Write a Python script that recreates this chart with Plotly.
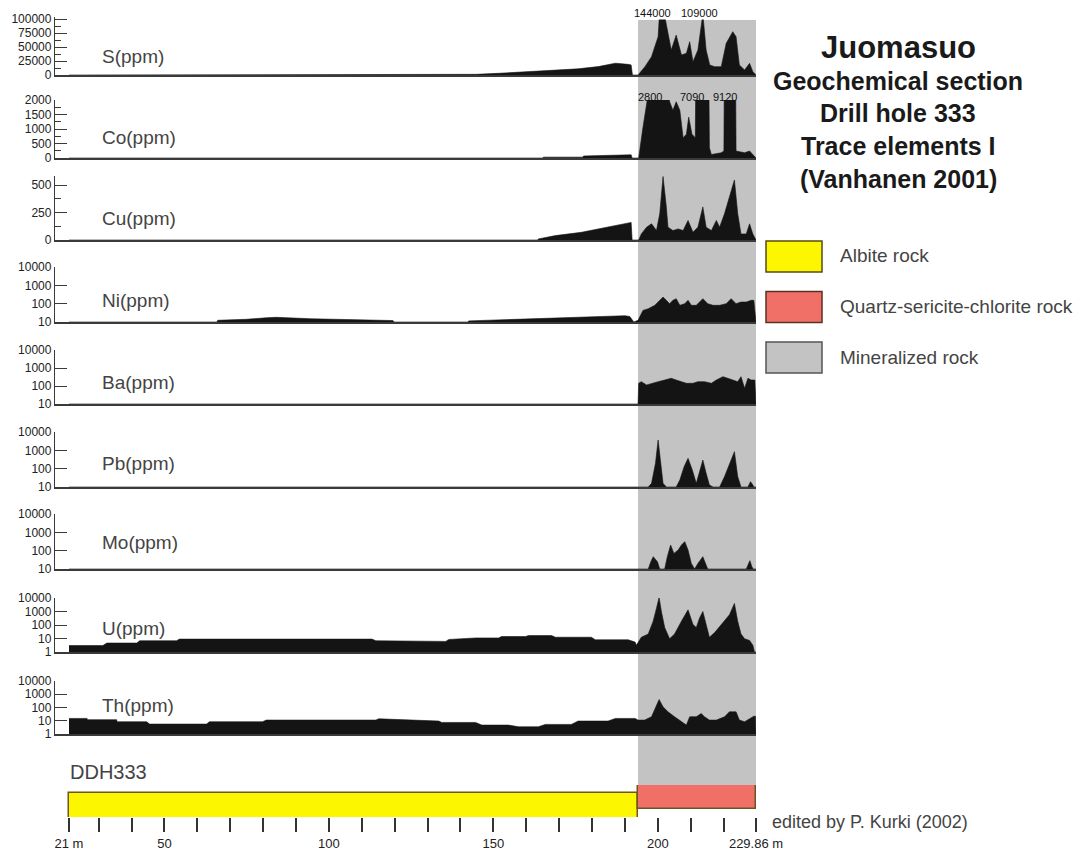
import plotly.graph_objects as go

W, H = 1091, 852

# ---------------- data ----------------
depth_start = 21.0
depth_end = 229.86
mineral_from = 194.0
mineral_to = 229.86

litho_names = ["Albite rock", "Quartz-sericite-chlorite rock"]
litho_from = [21.0, 194.0]
litho_to = [194.0, 229.86]
litho_colors = ["#fcf600", "#f07068"]

depth_ticks = [21, 30, 40, 50, 60, 70, 80, 90, 100, 110, 120, 130, 140, 150, 160, 170,
               180, 190, 200, 210, 220, 229.86]
depth_labels = ["21 m", "", "", "50", "", "", "", "", "100", "", "", "", "", "150", "", "",
                "", "", "200", "", "", "229.86 m"]

s_depth = [21, 144.5, 144.9, 151.6, 166.8, 175.8, 181.9, 187.1, 191.0, 191.9, 192.3, 194.0,
           196.1, 198.1, 200.1, 200.9, 202.6, 204.1, 205.6, 207.2, 208.7, 209.7, 210.7, 212.2,
           213.7, 214.7, 215.8, 217.3, 219.3, 220.8, 222.8, 223.8, 224.8, 226.4, 227.9, 228.9, 229.86]
s_ppm = [0, 0, 1200, 3000, 7700, 11000, 15000, 21000, 19000, 18000, 0, 0,
         14900, 32700, 68500, 144000, 90000, 44600, 71400, 35700, 38700, 59500, 23800, 44600,
         109000, 44600, 17900, 14900, 14900, 56500, 77400, 68500, 17900, 8900, 20800, 6000, 0]
s_peak_depth = [198.3, 212.8]
s_peak_text = ["144000", "109000"]

co_depth = [21, 165.0, 165.2, 177.3, 177.4, 185.0, 191.0, 191.9, 192.2, 194.2, 195.5, 197.1,
            197.9, 202.6, 203.6, 204.6, 205.6, 206.7, 207.7, 208.7, 209.4, 210.4, 211.4, 211.9,
            215.2, 215.7, 216.3, 219.3, 220.1, 220.5, 223.3, 223.8, 226.4, 227.9, 228.9, 229.86]
co_ppm = [0, 0, 30, 30, 70, 90, 120, 110, 0, 0, 1060, 1880,
          2800, 2800, 1940, 1650, 1940, 1650, 700, 820, 1410, 820, 700, 7090,
          7090, 350, 120, 180, 240, 9120, 9120, 240, 180, 240, 120, 0]
co_peak_depth = [197.6, 210.4, 220.4]
co_peak_text = ["2800", "7090", "9120"]

cu_depth = [21, 163.5, 163.7, 168.9, 176.8, 184.0, 191.0, 191.9, 192.2, 194.2, 195.0, 196.6,
            198.1, 199.6, 200.6, 201.6, 202.6, 203.1, 204.6, 206.2, 207.7, 209.2, 210.7, 212.2,
            213.7, 214.7, 216.3, 217.8, 218.8, 220.3, 221.8, 223.3, 224.3, 225.3, 226.9, 227.9,
            228.9, 229.86]
cu_ppm = [0, 0, 10, 40, 70, 115, 160, 160, 0, 0, 55, 117,
          147, 86, 240, 577, 301, 117, 86, 101, 86, 178, 71, 117,
          301, 117, 86, 178, 117, 240, 393, 546, 240, 55, 55, 147,
          55, 0]

ni_depth = [21, 66.0, 66.2, 74.9, 81.0, 84.0, 94.6, 107.0, 113.0, 119.5, 119.8, 142.3, 142.5,
            151.6, 160.0, 170.0, 180.0, 184.9, 190.0, 191.5, 192.7, 194.0, 195.5, 197.1, 199.1,
            200.6, 201.6, 202.6, 203.6, 204.6, 205.6, 206.7, 208.2, 209.2, 210.2, 211.7, 213.7,
            215.2, 216.8, 218.8, 220.8, 222.3, 223.8, 225.3, 226.9, 228.4, 229.2, 229.86]
ni_ppm = [10, 10, 12.4, 14, 17, 18, 15, 14, 12.5, 12, 10, 10, 11.5,
          13, 15, 17, 19, 21, 22, 20, 10, 12.3, 43, 53, 81,
          152, 231, 152, 100, 152, 187, 81, 100, 152, 81, 81, 187,
          100, 81, 81, 100, 187, 100, 123, 123, 152, 152, 10]

ba_depth = [21, 194.0, 194.2, 195.0, 196.6, 198.1, 200.1, 202.1, 204.1, 205.6, 207.2, 208.7,
            210.7, 212.2, 214.2, 216.3, 217.8, 219.8, 221.3, 222.8, 224.3, 225.3, 226.4, 227.4,
            228.4, 229.5, 229.86]
ba_ppm = [10, 10, 141, 174, 114, 141, 174, 215, 267, 215, 174, 141,
          141, 174, 174, 141, 215, 330, 267, 215, 174, 330, 74, 267,
          215, 215, 10]

pb_depth = [21, 197.1, 198.1, 199.3, 200.1, 200.9, 201.6, 202.6, 205.6, 206.7, 208.0, 209.2,
            210.5, 211.7, 212.5, 213.7, 214.7, 215.7, 216.8, 218.8, 220.3, 221.8, 223.3, 224.3,
            225.3, 227.4, 228.2, 228.9, 229.2, 229.86]
pb_ppm = [10, 10, 15.8, 195, 3650, 195, 15.8, 10, 10, 24, 128, 365,
          85, 15.8, 56, 297, 56, 12.8, 10, 10, 37, 195, 850, 37,
          10, 10, 19.5, 12.8, 10, 10]

mo_depth = [21, 197.1, 197.9, 198.6, 199.9, 200.6, 202.1, 202.9, 203.9, 204.9, 206.2, 207.2,
            208.2, 209.2, 210.2, 211.2, 212.2, 213.7, 214.7, 215.2, 226.9, 227.4, 228.0, 228.6,
            229.0, 229.86]
mo_ppm = [10, 10, 25, 47, 25, 10, 10, 47, 204, 71, 109, 204,
          310, 109, 20, 10, 20, 47, 16.5, 10, 10, 16.5, 28.5, 13.4,
          10, 10]

u_depth = [21, 31.3, 32.5, 41.6, 42.5, 53.7, 54.6, 113.1, 114.3, 135.5, 136.5, 144.6, 151.6,
           152.5, 159.8, 160.7, 167.7, 168.9, 179.8, 181.0, 191.0, 193.1, 193.5, 195.0, 197.1,
           198.6, 199.6, 200.4, 201.1, 202.1, 203.6, 205.1, 207.2, 209.2, 210.7, 211.7, 212.7,
           213.7, 214.7, 215.7, 217.3, 219.3, 221.8, 223.3, 224.3, 225.3, 226.4, 227.9, 228.9,
           229.4, 229.86]
u_ppm = [3.0, 3.0, 4.6, 4.6, 6.8, 6.8, 9, 9, 6.8, 6.1, 8.5, 11, 11,
         14, 14, 16.4, 16.4, 12.4, 12.4, 8, 8, 5.5, 3.2, 12.4, 21.5,
         193, 1730, 11000, 1000, 64, 9.5, 21.5, 193, 1320, 111, 64, 333,
         1000, 111, 12.4, 28, 111, 580, 3950, 193, 21.5, 9.5, 7.2, 3.2,
         1, 1]

th_depth = [21, 26.5, 26.6, 35.5, 35.6, 44.6, 45.5, 62.8, 63.7, 79.8, 81.0, 114.3, 115.2,
            121.3, 133.4, 134.3, 144.6, 146.5, 154.6, 157.7, 163.7, 165.8, 173.7, 175.8, 184.9,
            187.1, 193.1, 194.0, 196.0, 198.1, 199.6, 200.4, 201.6, 203.1, 205.1, 207.7, 208.7,
            209.7, 211.7, 213.2, 214.2, 215.7, 217.8, 220.3, 221.8, 223.8, 224.8, 226.4, 227.9,
            229.2, 229.7, 229.86]
th_ppm = [15, 15, 12, 12, 8.4, 8.4, 5.6, 5.6, 8.4, 8.4, 11.3, 11.3, 14,
          12, 9.5, 7.5, 7.5, 4.7, 4.7, 3.5, 3.5, 5.3, 5.3, 9.5, 9.5,
          15, 15, 11.2, 11.2, 20, 150, 400, 112, 47, 20, 6.3, 4.7,
          20, 20, 35, 20, 11.2, 11.2, 20, 47, 47, 11.2, 8.4, 15,
          22, 22, 1]

# ---------------- layout helpers (window pixel -> paper) ----------------
# the page body has an 8 px margin, so the figure origin sits at (8, 8) in the window
OFF = 8

def px_y(p):
    return 1 - (p - OFF) / H

def px_x(p):
    return (p - OFF) / W

X_LEFT, X_RIGHT = 55, 756
x_scale = (X_RIGHT - X_LEFT - 14) / (depth_end - depth_start)
x_range = [depth_start - 14 / x_scale, depth_end]

FONT = "Liberation Sans, Arial, sans-serif"
INK = "#141414"
AXIS = "#3a3a3a"

panels = [
    # label, depth, values, type, range, top px, bottom px, tickvals, ticktext, minor, label y px
    ("S(ppm)", s_depth, s_ppm, "linear", [0, 103600], 17, 75,
     [0, 25000, 50000, 75000, 100000], ["0", "25000", "50000", "75000", "100000"],
     [12500, 37500, 62500, 87500], 56),
    ("Co(ppm)", co_depth, co_ppm, "linear", [0, 2000], 100, 158,
     [0, 500, 1000, 1500, 2000], ["0", "500", "1000", "1500", "2000"],
     [250, 750, 1250, 1750], 138),
    ("Cu(ppm)", cu_depth, cu_ppm, "linear", [0, 582], 176, 240,
     [0, 250, 500], ["0", "250", "500"], [125, 375], 218),
    ("Ni(ppm)", ni_depth, ni_ppm, "log", [1, 4], 267, 322,
     [10, 100, 1000, 10000], ["10", "100", "1000", "10000"], None, 300),
    ("Ba(ppm)", ba_depth, ba_ppm, "log", [1, 4], 350, 404,
     [10, 100, 1000, 10000], ["10", "100", "1000", "10000"], None, 382),
    ("Pb(ppm)", pb_depth, pb_ppm, "log", [1, 4], 432, 487,
     [10, 100, 1000, 10000], ["10", "100", "1000", "10000"], None, 463),
    ("Mo(ppm)", mo_depth, mo_ppm, "log", [1, 4], 514, 569,
     [10, 100, 1000, 10000], ["10", "100", "1000", "10000"], None, 542),
    ("U(ppm)", u_depth, u_ppm, "log", [0, 4], 598, 652,
     [1, 10, 100, 1000, 10000], ["1", "10", "100", "1000", "10000"], None, 628),
    ("Th(ppm)", th_depth, th_ppm, "log", [0, 4], 681, 734,
     [1, 10, 100, 1000, 10000], ["1", "10", "100", "1000", "10000"], None, 705),
]

fig = go.Figure()
layout = dict(
    template="none",
    width=W, height=H, autosize=False,
    margin=dict(l=0, r=0, t=0, b=0, pad=0, autoexpand=False),
    paper_bgcolor="white", plot_bgcolor="rgba(0,0,0,0)",
    showlegend=False, font=dict(family=FONT, color="#333"),
)
annotations = []
shapes = []

for i, (label, dep, val, typ, rng, top, bot, tv, tt, minor, ly) in enumerate(panels, start=1):
    xa = "x" if i == 1 else f"x{i}"
    ya = "y" if i == 1 else f"y{i}"
    floor = 0 if typ == "linear" else 10 ** rng[0]
    fig.add_trace(go.Scatter(x=[depth_start, depth_end], y=[floor, floor], mode="lines",
                             line=dict(width=0, color=INK), xaxis=xa, yaxis=ya,
                             hoverinfo="skip"))
    fig.add_trace(go.Scatter(x=dep, y=val, mode="lines", fill="tonexty", fillcolor=INK,
                             line=dict(width=0.6, color=INK), xaxis=xa, yaxis=ya,
                             name=label))
    layout[f"xaxis{i}"] = dict(
        domain=[px_x(X_LEFT), px_x(X_RIGHT)], range=x_range, anchor=ya, automargin=False,
        showline=True, linecolor=AXIS, linewidth=1.5, showgrid=False, zeroline=False,
        showticklabels=False, ticks="", fixedrange=True,
    )
    yax = dict(
        domain=[px_y(bot), px_y(top)], type=typ, range=rng, anchor=xa, automargin=False,
        showline=True, linecolor=AXIS, linewidth=1.3, showgrid=False, zeroline=False,
        ticks="inside", ticklen=12, tickwidth=1.3, tickcolor=AXIS,
        tickmode="array", tickvals=tv, ticktext=tt,
        tickfont=dict(size=12, family=FONT, color="#222"), fixedrange=True,
    )
    if minor:
        yax["minor"] = dict(tickmode="array", tickvals=minor, ticks="inside", ticklen=6,
                            tickwidth=1.2, tickcolor=AXIS, showgrid=False)
    layout[f"yaxis{i}"] = yax
    annotations.append(dict(x=px_x(100), y=px_y(ly), xref="paper", yref="paper",
                            text=label, showarrow=False, xanchor="left", yanchor="middle",
                            font=dict(size=19, family=FONT, color="#444")))

# peak value labels (clipped peaks)
for d, t in zip(s_peak_depth, s_peak_text):
    annotations.append(dict(x=d, y=px_y(13), xref="x", yref="paper", text=t, showarrow=False,
                            xanchor="center", yanchor="middle", bgcolor="white",
                            font=dict(size=11, family=FONT, color="#111"), borderpad=0))
for d, t in zip(co_peak_depth, co_peak_text):
    annotations.append(dict(x=d, y=px_y(97), xref="x2", yref="paper", text=t, showarrow=False,
                            xanchor="center", yanchor="middle",
                            font=dict(size=11, family=FONT, color="#111"), borderpad=0))

# lithology column (DDH333)
n = len(panels) + 1
xa_l, ya_l = f"x{n}", f"y{n}"
for name, a, b, c in zip(litho_names, litho_from, litho_to, litho_colors):
    fig.add_trace(go.Bar(y=[0.5], x=[b - a], base=[a], orientation="h", width=1,
                         marker=dict(color=c, line=dict(color="#6b5520", width=1.5)),
                         xaxis=xa_l, yaxis=ya_l, name=name))
layout[f"xaxis{n}"] = dict(
    domain=[px_x(X_LEFT), px_x(X_RIGHT)], range=x_range, anchor=ya_l, automargin=False,
    showline=False, showgrid=False, zeroline=False,
    ticks="outside", ticklen=14, tickwidth=2, tickcolor="#333",
    tickmode="array", tickvals=depth_ticks, ticktext=depth_labels,
    tickfont=dict(size=13, family=FONT, color="#222"), fixedrange=True,
)
layout[f"yaxis{n}"] = dict(domain=[px_y(817), px_y(785)], range=[0, 1], anchor=xa_l,
                           visible=False, fixedrange=True, automargin=False)
layout["bargap"] = 0

# mineralized zone band
shapes.append(dict(type="rect", xref="x", yref="paper", x0=mineral_from, x1=mineral_to,
                   y0=px_y(785), y1=px_y(20), fillcolor="#c3c3c3", line=dict(width=0),
                   layer="below"))

annotations.append(dict(x=px_x(68), y=px_y(772), xref="paper", yref="paper", text="DDH333",
                        showarrow=False, xanchor="left", yanchor="middle",
                        font=dict(size=20, family=FONT, color="#444")))
annotations.append(dict(x=px_x(770), y=px_y(822), xref="paper", yref="paper",
                        text="edited by P. Kurki (2002)", showarrow=False, xanchor="left",
                        yanchor="middle", font=dict(size=18, family=FONT, color="#444")))

# title block
title_lines = [("Juomasuo", 31, 47), ("Geochemical section", 25, 81),
               ("Drill hole 333", 25, 113), ("Trace elements I", 25, 146),
               ("(Vanhanen 2001)", 25, 179)]
for t, sz, y in title_lines:
    annotations.append(dict(x=px_x(898), y=px_y(y), xref="paper", yref="paper",
                            text=f"<b>{t}</b>", showarrow=False, xanchor="center",
                            yanchor="middle", font=dict(size=sz, family=FONT, color="#1a1a1a")))

# legend
legend_items = [("Albite rock", litho_colors[0], "#5a4a10"),
                ("Quartz-sericite-chlorite rock", litho_colors[1], "#5a3020"),
                ("Mineralized rock", "#c3c3c3", "#555555")]
for k, (t, fc, lc) in enumerate(legend_items):
    top = 241 + 50.5 * k
    shapes.append(dict(type="rect", xref="paper", yref="paper", x0=px_x(766), x1=px_x(822),
                       y0=px_y(top + 31), y1=px_y(top), fillcolor=fc,
                       line=dict(color=lc, width=1.5)))
    annotations.append(dict(x=px_x(838), y=px_y(top + 15), xref="paper", yref="paper", text=t,
                            showarrow=False, xanchor="left", yanchor="middle",
                            font=dict(size=19, family=FONT, color="#444")))

layout["annotations"] = annotations
layout["shapes"] = shapes
fig.update_layout(**layout)
fig.write_html("out.html")
